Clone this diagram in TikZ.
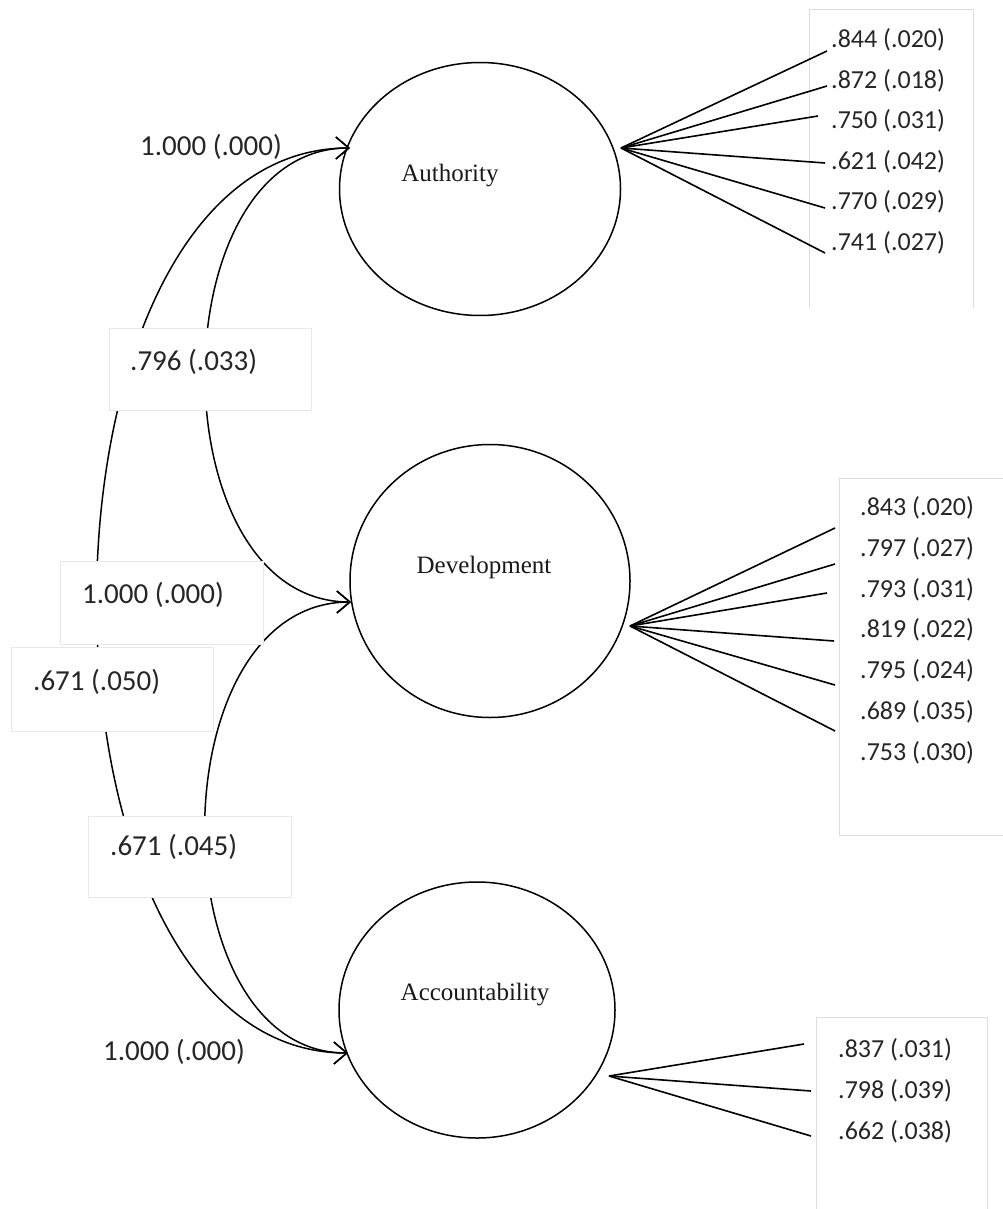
\documentclass[tikz,border=0pt]{standalone}
\usepackage{fontspec}
\setmainfont{Carlito}
\newfontfamily\latfont{Liberation Serif}
\usetikzlibrary{shapes.geometric,arrows.meta}
\begin{document}
\begin{tikzpicture}[x=1pt,y=-1pt,
  latent/.style={draw, ellipse, line width=1.5pt, inner sep=0pt},
  lbl/.style={font=\fontsize{29}{33}\selectfont, text=black!85, anchor=west, inner sep=0pt},
  ind/.style={font=\fontsize{26}{30}\selectfont, text=black!85, anchor=west, inner sep=0pt},
  lname/.style={font=\latfont\fontsize{25}{30}\selectfont, text=black!90, inner sep=0pt},
  wbox/.style={draw=black!9, fill=white, line width=1pt},
  cov/.style={line width=1.5pt, {Straight Barb[length=13pt,width=22pt]}-{Straight Barb[length=13pt,width=22pt]}},
  load/.style={line width=1.6pt},
  frame/.style={draw=black!13, line width=1pt}]
\useasboundingbox (0,0) rectangle (1002,1209);

% latent variables
\node[latent, minimum width=281pt, minimum height=253pt] (auth) at (480,189) {};
\node[latent, minimum width=280pt, minimum height=273pt] (dev) at (490,581) {};
\node[latent, minimum width=276pt, minimum height=256pt] (acc) at (477,1010) {};
\node[lname] (authT) at (450,176) {Authority};
\node[lname] (devT) at (484,567) {Development};
\node[lname] (accT) at (475,995) {Accountability};

% arrow points on the circles
\coordinate (authin) at (350,148);
\coordinate (devin) at (351,602);
\coordinate (accin) at (348,1053);

% covariance curves
\draw[cov] (authin) .. controls (13,148) and (13,1053) .. (accin);
\draw[cov] (authin) .. controls (157,148) and (157,602) .. (devin);
\draw[cov] (devin) .. controls (157,602) and (157,1053) .. (accin);

% label boxes over the curves
\path[wbox] (109,328) rectangle (311,410);
\path[wbox] (60,561) rectangle (263,644);
\path[wbox] (11,647) rectangle (213,731);
\path[wbox] (88,816) rectangle (291,897);
\node[lbl] (l796) at (130,362) {.796 (.033)};
\node[lbl] (l1m) at (82,595) {1.000 (.000)};
\node[lbl] (l050) at (33,682) {.671 (.050)};
\node[lbl] (l045) at (110,847) {.671 (.045)};
\node[lbl] (l1t) at (140,147) {1.000 (.000)};
\node[lbl] (l1b) at (103,1052) {1.000 (.000)};

% indicator frames
\draw[frame] (809,308) -- (809,10) -- (973,10) -- (973,308);
\draw[frame] (1003,478) -- (839,478) -- (839,835) -- (1003,835);
\draw[frame] (816,1210) -- (816,1017) -- (987,1017) -- (987,1210);

% loadings: Authority
\coordinate (fa) at (621,148);
\foreach \xx/\yy [count=\i] in {827/51, 827/86, 818/116, 825/163, 825/208, 825/253} {
  \coordinate (ae\i) at (\xx,\yy);
  \draw[load] (fa) -- (ae\i);
}
\foreach \t/\yy [count=\i] in {.844 (.020)/40, .872 (.018)/81, .750 (.031)/121, .621 (.042)/162, .770 (.029)/202, .741 (.027)/243} {
  \node[ind] (at\i) at (831,\yy) {\t};
}

% loadings: Development
\coordinate (fd) at (630,626);
\foreach \xx/\yy [count=\i] in {835/528, 835/564, 827/593, 834/641, 835/685, 835/731} {
  \coordinate (de\i) at (\xx,\yy);
  \draw[load] (fd) -- (de\i);
}
\foreach \t/\yy [count=\i] in {.843 (.020)/508, .797 (.027)/549, .793 (.031)/590, .819 (.022)/630, .795 (.024)/671, .689 (.035)/712, .753 (.030)/753} {
  \node[ind] (dt\i) at (860,\yy) {\t};
}

% loadings: Accountability
\coordinate (fc) at (609,1076);
\foreach \xx/\yy [count=\i] in {804/1044, 811/1091, 811/1136} {
  \coordinate (ce\i) at (\xx,\yy);
  \draw[load] (fc) -- (ce\i);
}
\foreach \t/\yy [count=\i] in {.837 (.031)/1050, .798 (.039)/1091, .662 (.038)/1132} {
  \node[ind] (ct\i) at (838,\yy) {\t};
}
\end{tikzpicture}
\end{document}
